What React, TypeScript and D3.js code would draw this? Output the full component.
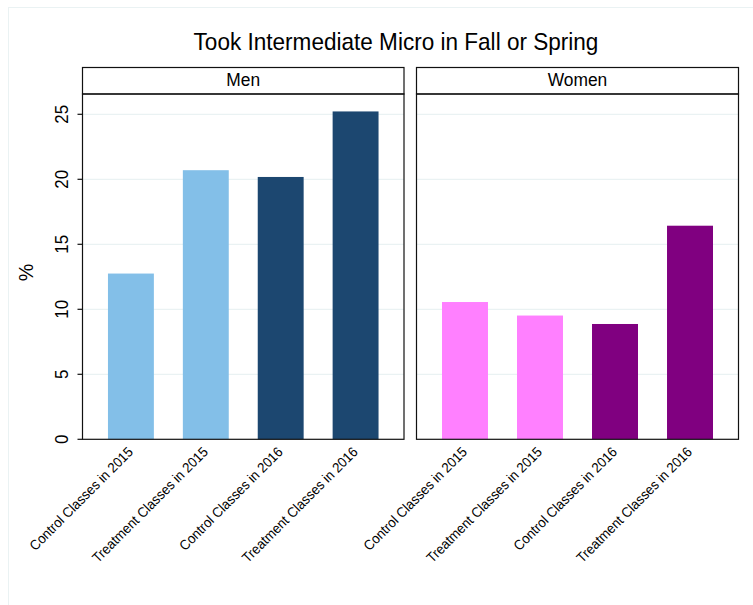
import React, { useEffect, useRef } from "react";
import * as d3 from "d3";

const categories = [
  "Control Classes in 2015",
  "Treatment Classes in 2015",
  "Control Classes in 2016",
  "Treatment Classes in 2016",
];
const panels = ["Men", "Women"];
const menValues = [12.75, 20.7, 20.18, 25.22];
const womenValues = [10.56, 9.52, 8.87, 16.43];
const menColors = ["#83BFE8", "#83BFE8", "#1C4770", "#1C4770"];
const womenColors = ["#FF80FF", "#FF80FF", "#800080", "#800080"];
const yTicks = [0, 5, 10, 15, 20, 25];
const title = "Took Intermediate Micro in Fall or Spring";
const yLabel = "%";

const FONT = "'Liberation Sans', Arial, Helvetica, sans-serif";
const C = 0.94; // horizontal glyph compression

export default function App() {
  const ref = useRef<SVGSVGElement | null>(null);

  useEffect(() => {
    const svg = d3.select(ref.current);
    svg.selectAll("*").remove();

    const W = 753, H = 605;
    svg.append("rect").attr("width", W).attr("height", H).attr("fill", "#fff");
    svg.append("line").attr("x1", 8).attr("x2", W).attr("y1", 7.5).attr("y2", 7.5).attr("stroke", "#EAF2F3").attr("stroke-width", 1);
    svg.append("line").attr("x1", 8.5).attr("x2", 8.5).attr("y1", 7).attr("y2", H).attr("stroke", "#EAF2F3").attr("stroke-width", 1);

    svg.append("text")
      .attr("transform", `translate(396,49.5) scale(${C},1)`)
      .attr("text-anchor", "middle")
      .attr("font-family", FONT).attr("font-size", 24)
      .attr("fill", "#000")
      .text(title);

    const top = 94, bottom = 439.3;
    const y = d3.scaleLinear().domain([0, 25]).range([bottom, bottom - 25 * 13]);

    const panelX = [
      [82.5, 404],
      [416.5, 738.5],
    ];
    const valuesArr = [menValues, womenValues];
    const colorsArr = [menColors, womenColors];

    panels.forEach((p, pi) => {
      const [x0, x1] = panelX[pi];
      const g = svg.append("g");
      g.append("rect").attr("x", x0).attr("y", 67.5).attr("width", x1 - x0).attr("height", top - 67.5)
        .attr("fill", "#fff").attr("stroke", "#111").attr("stroke-width", 1.2);
      g.append("text")
        .attr("transform", `translate(${(x0 + x1) / 2},86) scale(${C},1)`)
        .attr("text-anchor", "middle").attr("font-family", FONT).attr("font-size", 18.5)
        .text(p);

      g.selectAll("line.grid").data(yTicks.filter((t) => t > 0)).join("line")
        .attr("x1", x0).attr("x2", x1)
        .attr("y1", (d) => y(d)).attr("y2", (d) => y(d))
        .attr("stroke", "#EAF2F3").attr("stroke-width", 1.2);

      const x = d3.scaleBand().domain(categories).range([x0, x1]).paddingInner(0.387).paddingOuter(0.34);
      const vals = valuesArr[pi];
      const cols = colorsArr[pi];
      g.selectAll("rect.bar").data(categories).join("rect")
        .attr("x", (d) => x(d)!)
        .attr("width", x.bandwidth())
        .attr("y", (d, i) => y(vals[i]))
        .attr("height", (d, i) => y(0) - y(vals[i]))
        .attr("fill", (d, i) => cols[i]);

      g.append("rect").attr("x", x0).attr("y", top).attr("width", x1 - x0).attr("height", bottom - top)
        .attr("fill", "none").attr("stroke", "#111").attr("stroke-width", 1.2);

      g.selectAll("text.xl").data(categories).join("text")
        .attr("transform", (d) => `translate(${x(d)! + x.bandwidth() / 2 + 3},${bottom + 13.5}) rotate(-45) scale(${C},1)`)
        .attr("text-anchor", "end")
        .attr("font-family", FONT).attr("font-size", 14)
        .text((d) => d);

      if (pi === 0) {
        const ax = g.append("g");
        yTicks.forEach((t) => {
          ax.append("line").attr("x1", x0 - 5).attr("x2", x0).attr("y1", y(t)).attr("y2", y(t))
            .attr("stroke", "#111").attr("stroke-width", 1.2);
          ax.append("text")
            .attr("transform", `translate(68,${y(t)}) rotate(-90) scale(${C},1)`)
            .attr("text-anchor", "middle")
            .attr("font-family", FONT).attr("font-size", 18)
            .text(String(t));
        });
      }
    });

    svg.append("text")
      .attr("transform", `translate(33,272.5) rotate(-90) scale(${C},1)`)
      .attr("text-anchor", "middle")
      .attr("font-family", FONT).attr("font-size", 21)
      .text(yLabel);
  }, []);

  return (
    <svg
      ref={ref}
      width={753}
      height={605}
      style={{ position: "absolute", left: 0, top: 0, display: "block" }}
    />
  );
}
